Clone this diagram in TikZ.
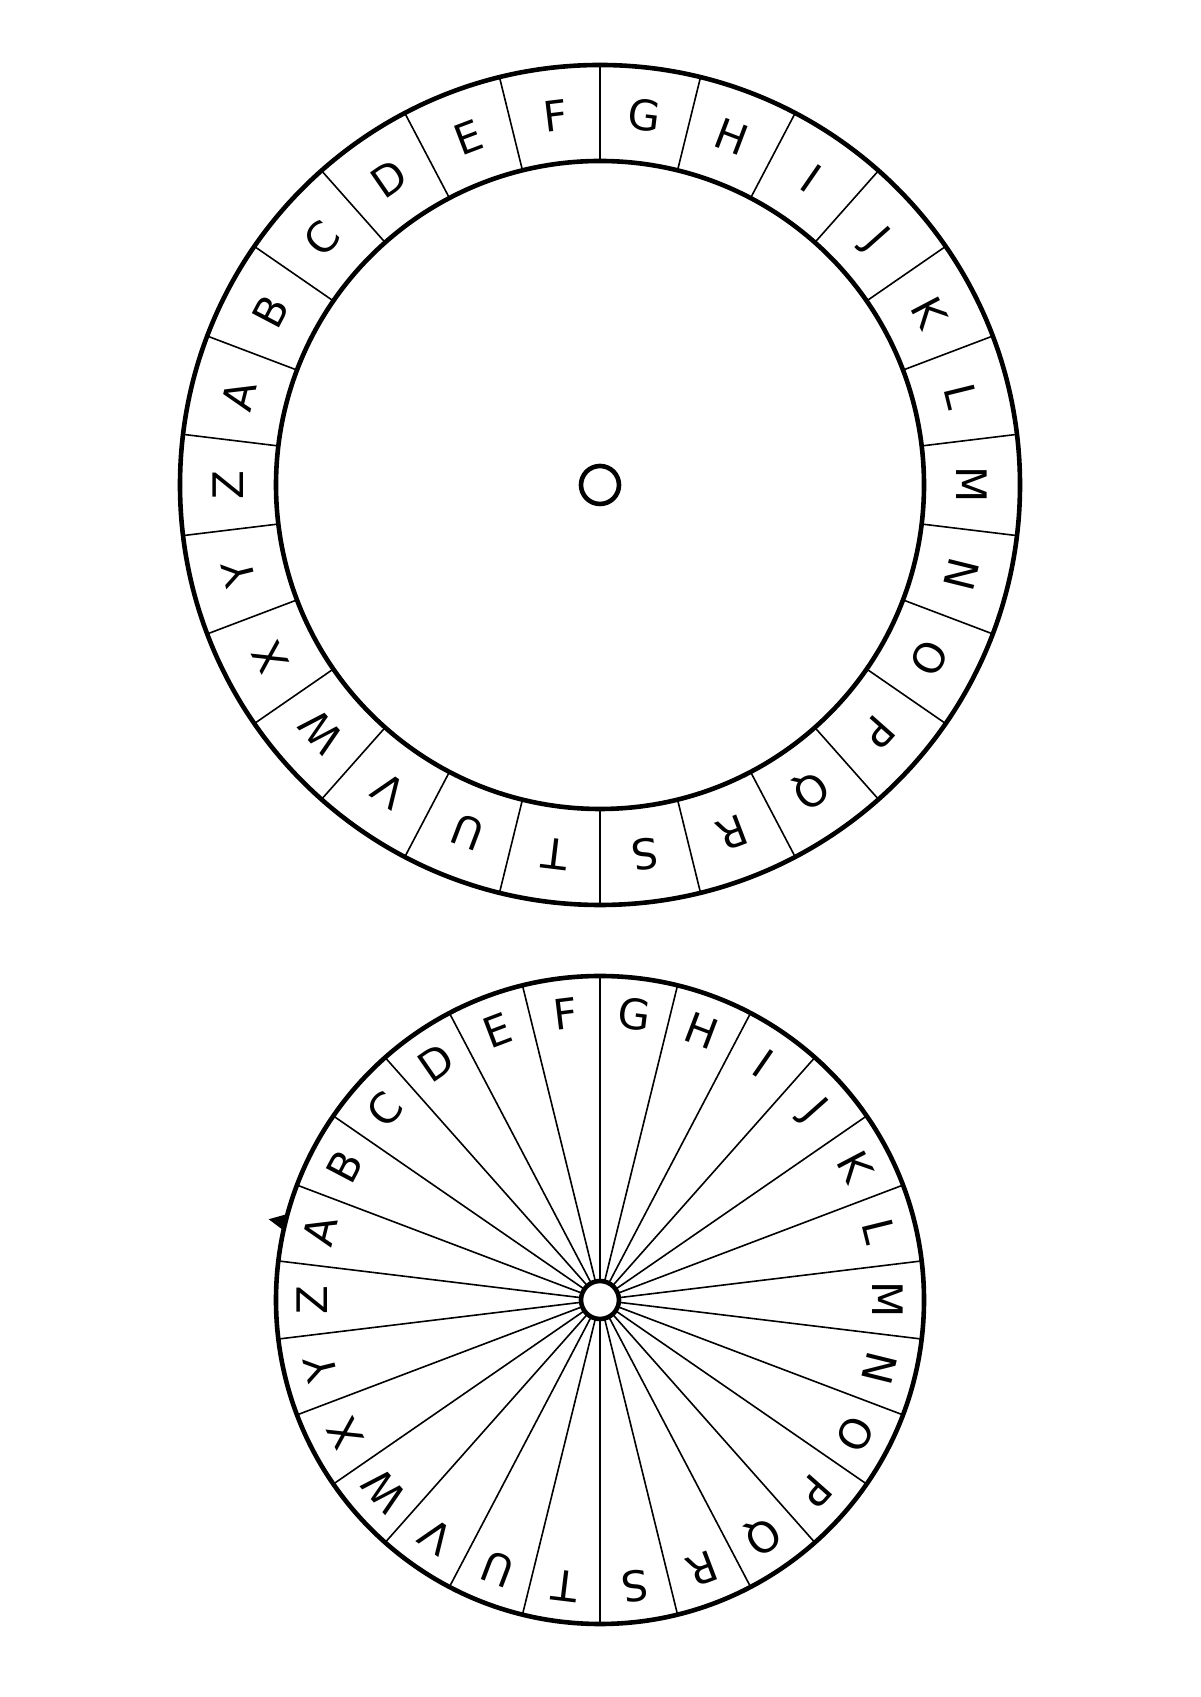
\documentclass[tikz,border=0pt]{standalone}
\usepackage{fontspec}
\setmainfont{DejaVu Sans}
\tikzset{
  rim/.style={line width=2.3pt},
  spoke/.style={line width=0.8pt},
  letter/.style={inner sep=0pt, text height=15.3pt, text depth=0pt, font=\fontsize{21}{25}\selectfont}
}
\begin{document}
\begin{tikzpicture}[x=1pt, y=1pt]
  \useasboundingbox (0,0) rectangle (600,848.5);
  \coordinate (outer) at (300,606);
  \coordinate (inner) at (300,198.5);
  % outer disc
  \foreach \k in {0,...,25}
    \draw[spoke, shift={(outer)}] (90-\k*360/26:162) -- (90-\k*360/26:210);
  \draw[rim] (outer) circle (210);
  \draw[rim] (outer) circle (162);
  \draw[rim] (outer) circle (9.5);
  \foreach \c [count=\i from 0] in {A,...,Z} {
    \pgfmathsetmacro\ang{90-(\i-5.5)*360/26}
    \node[letter, rotate=\ang-90] (o\c) at ([shift={(\ang:186)}]outer) {\c};
  }
  % inner disc
  \foreach \k in {0,...,25}
    \draw[spoke, shift={(inner)}] (90-\k*360/26:9.5) -- (90-\k*360/26:162);
  \draw[rim] (inner) circle (162);
  \draw[rim, fill=white] (inner) circle (9.5);
  \foreach \c [count=\i from 0] in {A,...,Z} {
    \pgfmathsetmacro\ang{90-(\i-5.5)*360/26}
    \node[letter, rotate=\ang-90] (i\c) at ([shift={(\ang:144)}]inner) {\c};
  }
  \fill[shift={(inner)}] (164.6:162) -- (166.3:170.5) -- (167.6:162) -- cycle;
\end{tikzpicture}
\end{document}
